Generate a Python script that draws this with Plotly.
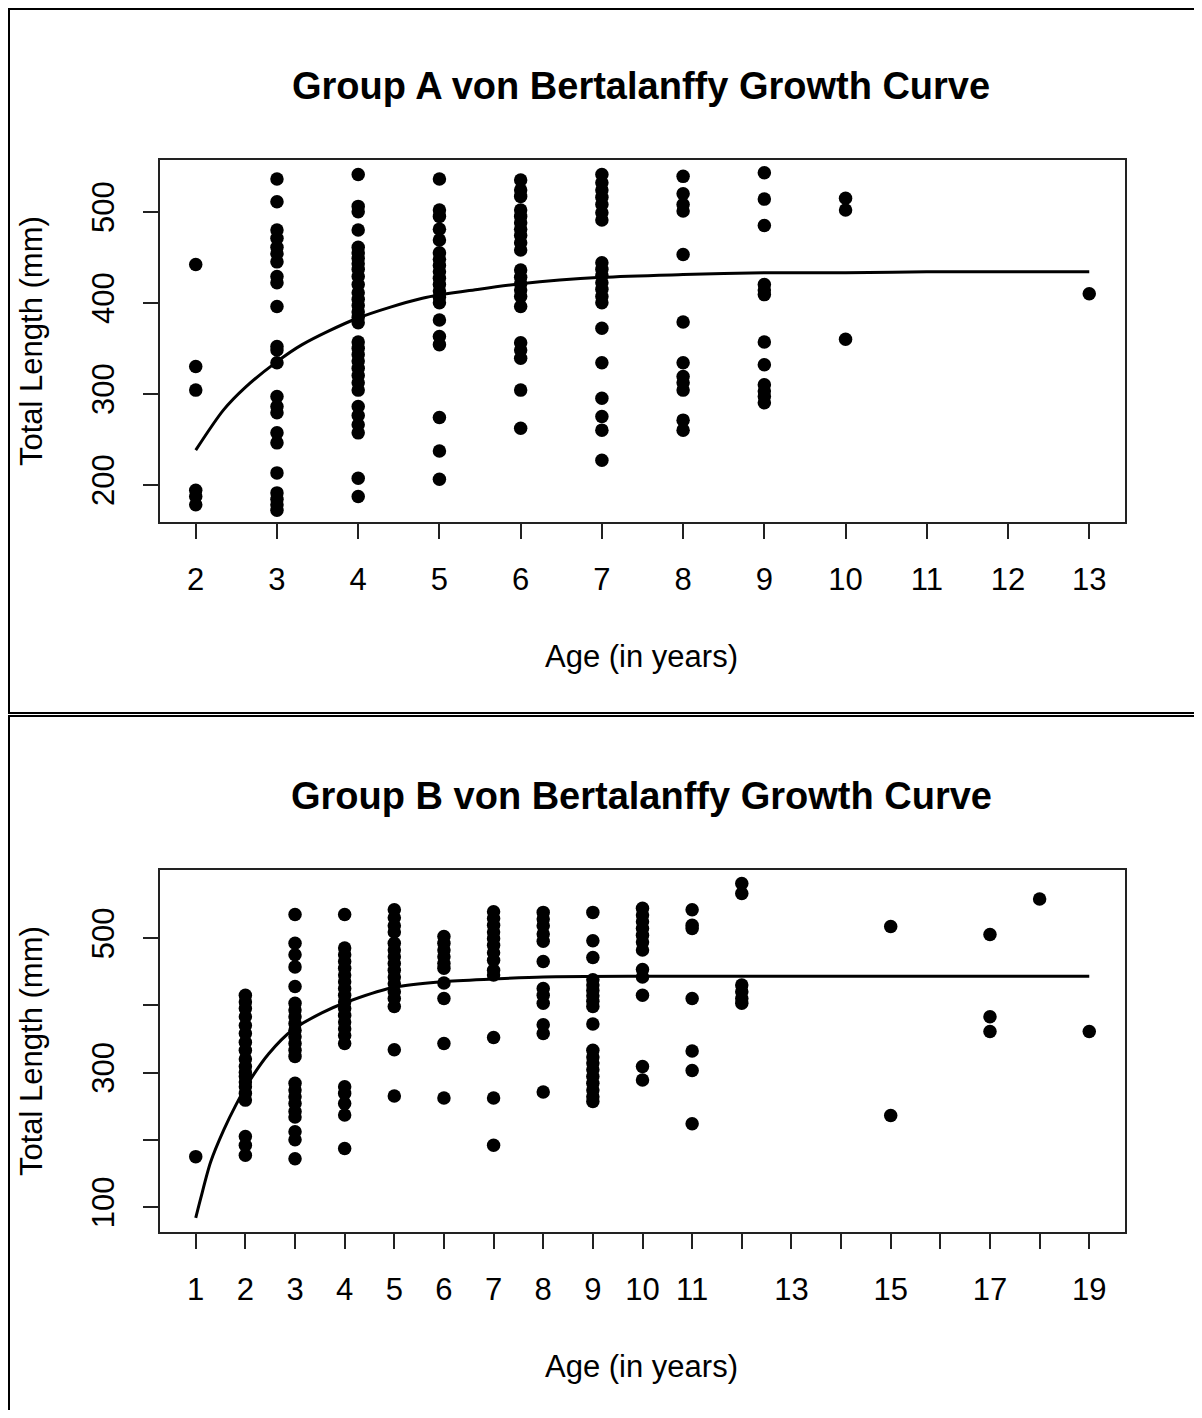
import plotly.graph_objects as go

# ---------------- Data ----------------
groupA_ages = [2, 3, 4, 5, 6, 7, 8, 9, 10, 13]
groupA_lengths = [
    [442, 330, 304, 194, 187, 178],
    [536, 511, 480, 471, 461, 454, 445, 429, 422, 396, 352, 348, 334, 297, 286, 279,
     257, 246, 213, 191, 184, 178, 172],
    [541, 506, 500, 480, 461, 455, 449, 443, 437, 429, 420, 411, 404, 397, 390, 384,
     378, 357, 350, 343, 336, 328, 320, 312, 304, 286, 276, 266, 257, 207, 187],
    [536, 502, 495, 481, 469, 455, 448, 441, 434, 427, 420, 413, 406, 400, 381, 363,
     354, 274, 237, 206],
    [535, 524, 517, 502, 495, 488, 481, 474, 466, 458, 436, 428, 421, 414, 407, 396,
     356, 348, 339, 304, 262],
    [541, 532, 524, 516, 508, 499, 491, 444, 437, 430, 422, 415, 407, 400, 372, 334,
     295, 275, 260, 227],
    [539, 520, 508, 501, 453, 379, 334, 319, 312, 304, 271, 260],
    [543, 514, 485, 420, 414, 409, 357, 332, 310, 303, 297, 290],
    [515, 502, 360],
    [410],
]
curveA_age = [2.0, 2.34, 2.61, 2.98, 3.31, 3.99, 4.79, 5.49, 6, 7, 8, 9, 10, 11, 13]
curveA_len = [238, 282, 307, 334, 354, 383, 405, 415, 421, 428, 431, 433, 433, 434, 434]

groupB_ages = [1, 2, 3, 4, 5, 6, 7, 8, 9, 10, 11, 12, 15, 17, 18, 19]
groupB_lengths = [
    [175],
    [415, 405, 395, 383, 370, 358, 345, 333, 320, 309, 300, 294, 286, 279, 269, 259,
     205, 192, 177],
    [535, 492, 475, 457, 428, 403, 393, 383, 373, 363, 353, 343, 333, 324, 284, 274,
     264, 254, 242, 234, 212, 200, 172],
    [535, 485, 475, 465, 455, 445, 435, 425, 415, 405, 395, 385, 375, 365, 355, 343,
     279, 269, 254, 237, 187],
    [542, 530, 518, 509, 492, 482, 472, 462, 452, 442, 432, 420, 410, 398, 334, 265],
    [502, 492, 482, 472, 462, 455, 433, 410, 343, 262],
    [539, 529, 519, 509, 499, 489, 478, 467, 452, 445, 352, 262, 192],
    [538, 528, 518, 506, 495, 465, 425, 415, 403, 371, 358, 271],
    [538, 496, 471, 438, 430, 422, 414, 406, 398, 372, 333, 323, 314, 304, 294, 284,
     274, 264, 257],
    [544, 534, 524, 514, 504, 494, 482, 453, 442, 415, 309, 289],
    [542, 519, 514, 410, 332, 303, 224],
    [581, 566, 430, 420, 410, 403],
    [517, 236],
    [505, 383, 361],
    [558],
    [361],
]
curveB_age = [1.0, 1.1, 1.3, 1.56, 1.81, 2.07, 2.47, 2.96, 3.55, 3.98, 4.96, 5.96, 7, 8, 10, 13, 19]
curveB_len = [84, 113, 167, 214, 252, 286, 328, 364, 389, 403, 426, 435, 439, 442, 443, 443, 443]

titleA = "Group A von Bertalanffy Growth Curve"
titleB = "Group B von Bertalanffy Growth Curve"
x_title = "Age (in years)"
y_title = "Total Length (mm)"

xticksA = list(range(2, 14))
xtextA = [str(v) for v in xticksA]
xticksB = list(range(1, 20))
xtextB = [str(v) if v not in (12, 14, 16, 18) else "" for v in xticksB]
yticksA = [200, 300, 400, 500]
ytextA = ["200", "300", "400", "500"]
yticksB = [100, 200, 300, 400, 500]
ytextB = ["100", "", "300", "", "500"]

# ---------------- Figure ----------------
OFF = 8  # page body margin
W, H = 1202 - 2 * OFF, 1418 - 2 * OFF
FONT = "Liberation Sans, Arial, sans-serif"


def flat(ages, lengths):
    xs, ys = [], []
    for a, ls in zip(ages, lengths):
        for v in ls:
            xs.append(a)
            ys.append(v)
    return xs, ys


fig = go.Figure()
xa, ya = flat(groupA_ages, groupA_lengths)
xb, yb = flat(groupB_ages, groupB_lengths)

mk = dict(color="black", size=13.5, line=dict(width=0))
fig.add_trace(go.Scatter(x=xa, y=ya, mode="markers", xaxis="x", yaxis="y",
                         marker=mk, showlegend=False))
fig.add_trace(go.Scatter(x=curveA_age, y=curveA_len, mode="lines", xaxis="x", yaxis="y",
                         line=dict(color="black", width=3, shape="spline", smoothing=0.8),
                         showlegend=False))
fig.add_trace(go.Scatter(x=xb, y=yb, mode="markers", xaxis="x2", yaxis="y2",
                         marker=mk, showlegend=False))
fig.add_trace(go.Scatter(x=curveB_age, y=curveB_len, mode="lines", xaxis="x2", yaxis="y2",
                         line=dict(color="black", width=3, shape="spline", smoothing=0.8),
                         showlegend=False))


def px(x):
    return (x - OFF) / W


def py(y):
    return 1 - (y - OFF) / H


axis_common = dict(showgrid=False, zeroline=False, showline=True, linecolor="#222",
                   linewidth=2, mirror=True, ticks="outside", ticklen=15, tickwidth=2,
                   tickcolor="#222", tickfont=dict(family=FONT, size=31, color="black"))

fig.update_layout(
    width=W, height=H, autosize=False,
    margin=dict(l=0, r=0, t=0, b=0),
    paper_bgcolor="white", plot_bgcolor="white",
    xaxis=dict(domain=[px(160), px(1125)], anchor="y", range=[1.56, 13.44],
               tickmode="array", tickvals=xticksA, ticktext=xtextA,
               ticklabelstandoff=14, **axis_common),
    yaxis=dict(domain=[py(522), py(160)], anchor="x", range=[159, 557],
               tickmode="array", tickvals=yticksA, ticktext=ytextA, tickangle=-90,
               ticklabelstandoff=17, **axis_common),
    xaxis2=dict(domain=[px(160), px(1125)], anchor="y2", range=[0.28, 19.72],
                tickmode="array", tickvals=xticksB, ticktext=xtextB,
                ticklabelstandoff=14, **axis_common),
    yaxis2=dict(domain=[py(1232), py(870)], anchor="x2", range=[63, 601],
                tickmode="array", tickvals=yticksB, ticktext=ytextB, tickangle=-90,
                ticklabelstandoff=17, **axis_common),
)

# panel frames (left/top edges kept just inside the drawable page area)
fig.add_shape(type="rect", xref="paper", yref="paper",
              x0=px(9), x1=px(1206), y0=py(713), y1=py(9),
              line=dict(color="black", width=2))
fig.add_shape(type="rect", xref="paper", yref="paper",
              x0=px(9), x1=px(1206), y0=py(1422), y1=py(716),
              line=dict(color="black", width=2))

ann = []
for title, ty, xt_y, yt_y in [(titleA, 86, 656, 341), (titleB, 796, 1366, 1051)]:
    ann.append(dict(text="<b>" + title + "</b>", x=px(641), y=py(ty), xref="paper", yref="paper",
                    xanchor="center", yanchor="middle", showarrow=False,
                    font=dict(family=FONT, size=38, color="black")))
    ann.append(dict(text=x_title, x=px(641), y=py(xt_y), xref="paper", yref="paper",
                    xanchor="center", yanchor="middle", showarrow=False,
                    font=dict(family=FONT, size=31, color="black")))
    ann.append(dict(text=y_title, x=px(31), y=py(yt_y), xref="paper", yref="paper",
                    xanchor="center", yanchor="middle", showarrow=False, textangle=-90,
                    font=dict(family=FONT, size=31, color="black")))
fig.update_layout(annotations=ann)

fig.write_html("out.html")
